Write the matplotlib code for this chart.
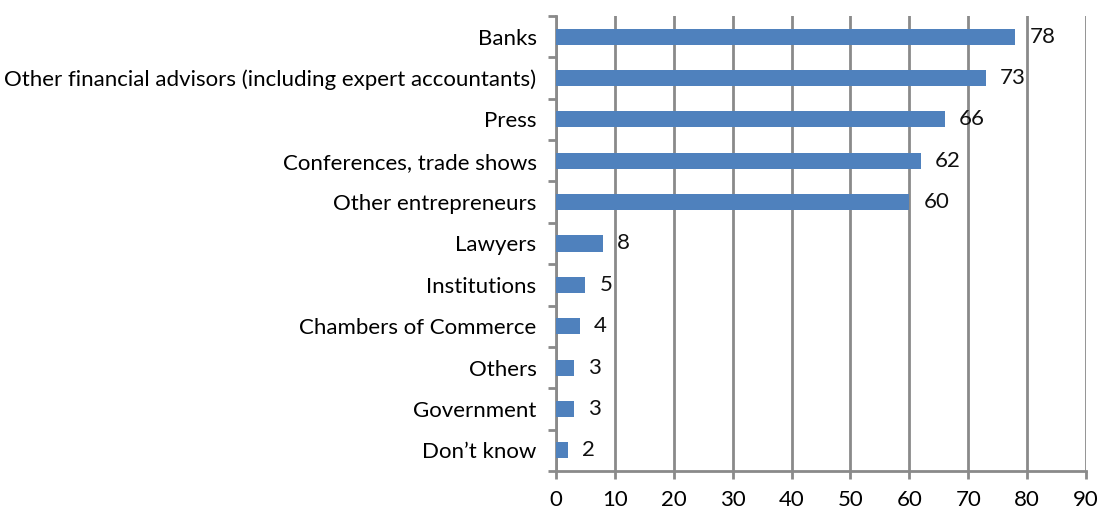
import matplotlib
matplotlib.use("Agg")
import matplotlib.pyplot as plt
import numpy as np

categories = [
    "Banks",
    "Other financial advisors (including expert accountants)",
    "Press",
    "Conferences, trade shows",
    "Other entrepreneurs",
    "Lawyers",
    "Institutions",
    "Chambers of Commerce",
    "Others",
    "Government",
    "Don\u2019t know",
]
values = [78, 73, 66, 62, 60, 8, 5, 4, 3, 3, 2]
x_ticks = [0, 10, 20, 30, 40, 50, 60, 70, 80, 90]

plt.rcParams["font.family"] = ["Lato", "DejaVu Sans"]
fs = 16

fig = plt.figure(figsize=(11, 5.11), dpi=100)
ax = fig.add_axes([0.5055, 0.0783, 0.9873 - 0.5055, 0.9687 - 0.0783])

grid_col = "#8a8a8a"
y = np.arange(len(categories))
ax.barh(y, values, height=0.39, color="#4F81BD", zorder=3)

for yi, v in zip(y, values):
    ax.annotate(str(v), (v, yi), xytext=(10, 0), textcoords="offset points",
                va="center", ha="left", fontsize=fs, color="#111111")

ax.set_xlim(0, 90)
ax.set_ylim(len(categories) - 0.5, -0.5)
ax.set_xticks(x_ticks)
ax.set_xticklabels([str(t) for t in x_ticks], fontsize=fs)
ax.set_yticks(y)
ax.set_yticklabels(categories, fontsize=fs)
ax.set_yticks(np.arange(len(categories) + 1) - 0.5, minor=True)

ax.xaxis.grid(True, color=grid_col, linewidth=2, zorder=0)
ax.tick_params(axis="y", which="major", length=0, pad=14)
ax.tick_params(axis="y", which="minor", length=6, width=2, color=grid_col, direction="out")
ax.tick_params(axis="x", length=6, width=2, color=grid_col, direction="out", pad=8)

for side in ["top", "right"]:
    ax.spines[side].set_visible(False)
for side in ["left", "bottom"]:
    ax.spines[side].set_color(grid_col)
    ax.spines[side].set_linewidth(2)

fig.savefig("out.png", dpi=100, facecolor="white")
